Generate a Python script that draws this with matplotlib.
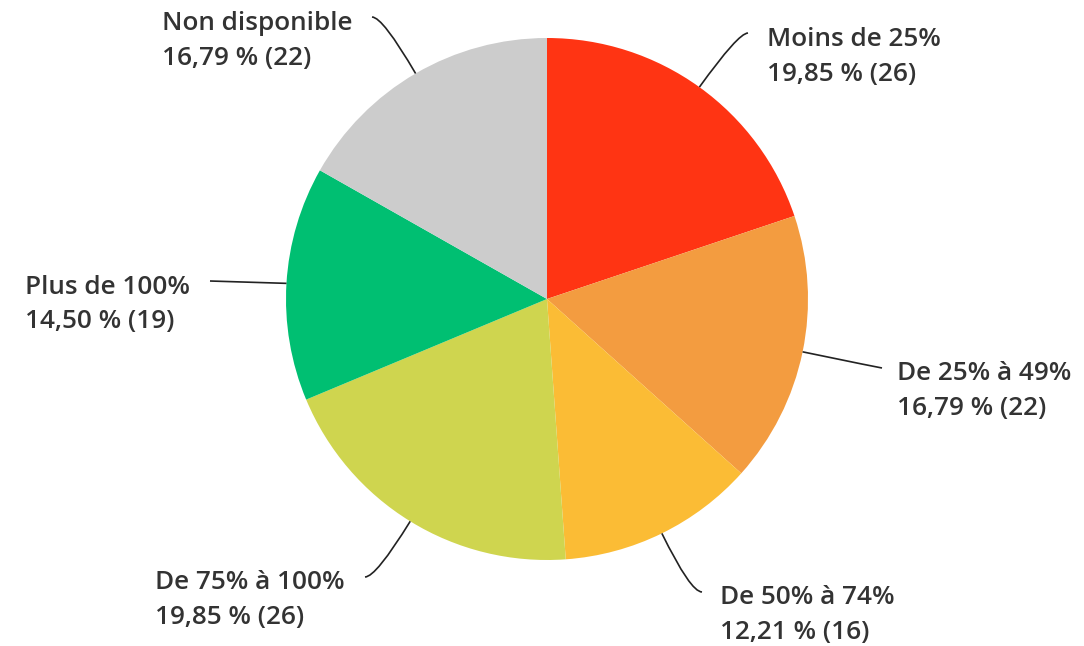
import matplotlib.pyplot as plt
from matplotlib.path import Path
from matplotlib.patches import PathPatch
import numpy as np

plt.rcParams['font.family'] = ['Open Sans', 'DejaVu Sans']

# data
categories = ['Moins de 25%', 'De 25% à 49%', 'De 50% à 74%', 'De 75% à 100%',
              'Plus de 100%', 'Non disponible']
counts = [26, 22, 16, 26, 19, 22]
colors = ['#FF3413', '#F39C40', '#FBBC35', '#CFD54F', '#00BF72', '#CCCCCC']

# label layout in pixels: leader end point, text anchor x, alignment
line_end = [(748, 33), (882, 368), (702, 592), (365, 577), (210, 281), (372, 17)]
text_x = [767, 897, 720, 345, 190, 352]
text_ha = ['left', 'left', 'left', 'right', 'right', 'right']

W, H = 1084, 646
cx, cy, R = 547, 299, 261

fig = plt.figure(figsize=(W / 100, H / 100), dpi=100)
ax = fig.add_axes([(cx - R) / W, (H - cy - R) / H, 2 * R / W, 2 * R / H])
ax.pie(counts, colors=colors, startangle=90, counterclock=False, radius=1,
       wedgeprops=dict(linewidth=0))
ax.set_xlim(-1, 1)
ax.set_ylim(-1, 1)
ax.set_aspect('equal')
ax.axis('off')
renderer = fig.canvas.get_renderer()


def to_data(px, py):
    return (px - cx) / R, (cy - py) / R


total = sum(counts)
cum = np.cumsum([0] + counts)
for i, cat in enumerate(categories):
    mid = (cum[i] + counts[i] / 2) / total * 2 * np.pi
    sx, sy = np.sin(mid), np.cos(mid)
    ex, ey = to_data(*line_end[i])
    # control point: radial line meets horizontal through end point
    if abs(sy) > 0.15:
        t = max((ey - sy) / sy, 0.05)
        c = (sx + sx * t, sy + sy * t)
    else:
        c = ((sx + ex) / 2, (sy + ey) / 2)
    path = Path([(sx, sy), c, (ex, ey)], [Path.MOVETO, Path.CURVE3, Path.CURVE3])
    ax.add_patch(PathPatch(path, fill=False, lw=1.2, ec='#222222', clip_on=False))

    pct = f'{counts[i] / total * 100:.2f} % ({counts[i]})'.replace('.', ',')
    y1 = line_end[i][1] + 6
    x, ty = to_data(text_x[i], y1)
    _, ty2 = to_data(text_x[i], y1 + 35)
    kw = dict(va='center', fontsize=18.8, color='#333333', fontweight='semibold',
              clip_on=False)
    first = ax.text(x, ty, cat, ha='left', **kw)
    if text_ha[i] == 'right':
        wpx = first.get_window_extent(renderer).width
        x = x - wpx / R
        first.set_x(x)
    ax.text(x, ty2, pct, ha='left', **kw)

fig.savefig('out.png', dpi=100)
